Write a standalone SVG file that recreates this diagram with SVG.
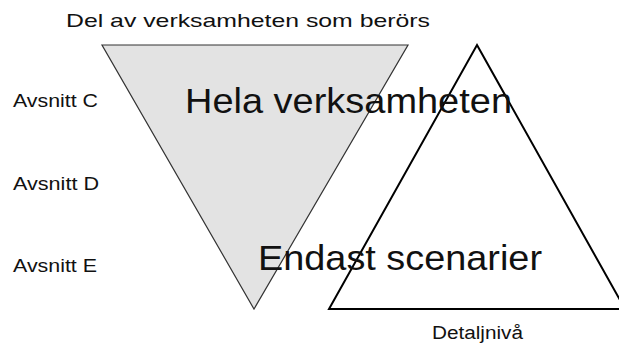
<svg xmlns="http://www.w3.org/2000/svg" width="619" height="351" viewBox="0 0 619 351">
<style>
text{font-family:"Liberation Sans",Arial,sans-serif;fill:#111}
.lbl{font-size:18px}
.big{font-size:35px}
</style>
<rect width="619" height="351" fill="#fff"/>
<g id="gray-triangle">
<polygon points="102,45 408,45 254,309" fill="#e3e3e3" stroke="#333" stroke-width="1.2"/>
</g>
<g id="white-triangle">
<polygon points="477,45 625,309 329,309" fill="none" stroke="#000" stroke-width="2"/>
</g>
<g id="labels">
<text class="lbl" x="66" y="27" font-size="19" style="font-size:19px" textLength="364" lengthAdjust="spacingAndGlyphs">Del av verksamheten som berörs</text>
<text class="lbl" x="13" y="107" textLength="85" lengthAdjust="spacingAndGlyphs">Avsnitt C</text>
<text class="lbl" x="13" y="190" textLength="86" lengthAdjust="spacingAndGlyphs">Avsnitt D</text>
<text class="lbl" x="13" y="272" textLength="84" lengthAdjust="spacingAndGlyphs">Avsnitt E</text>
<text class="lbl" x="432" y="339" style="font-size:18px" textLength="91" lengthAdjust="spacingAndGlyphs">Detaljnivå</text>
<text class="big" x="185" y="113" textLength="327" lengthAdjust="spacingAndGlyphs">Hela verksamheten</text>
<text class="big" x="258" y="270" textLength="284" lengthAdjust="spacingAndGlyphs">Endast scenarier</text>
</g>
</svg>
